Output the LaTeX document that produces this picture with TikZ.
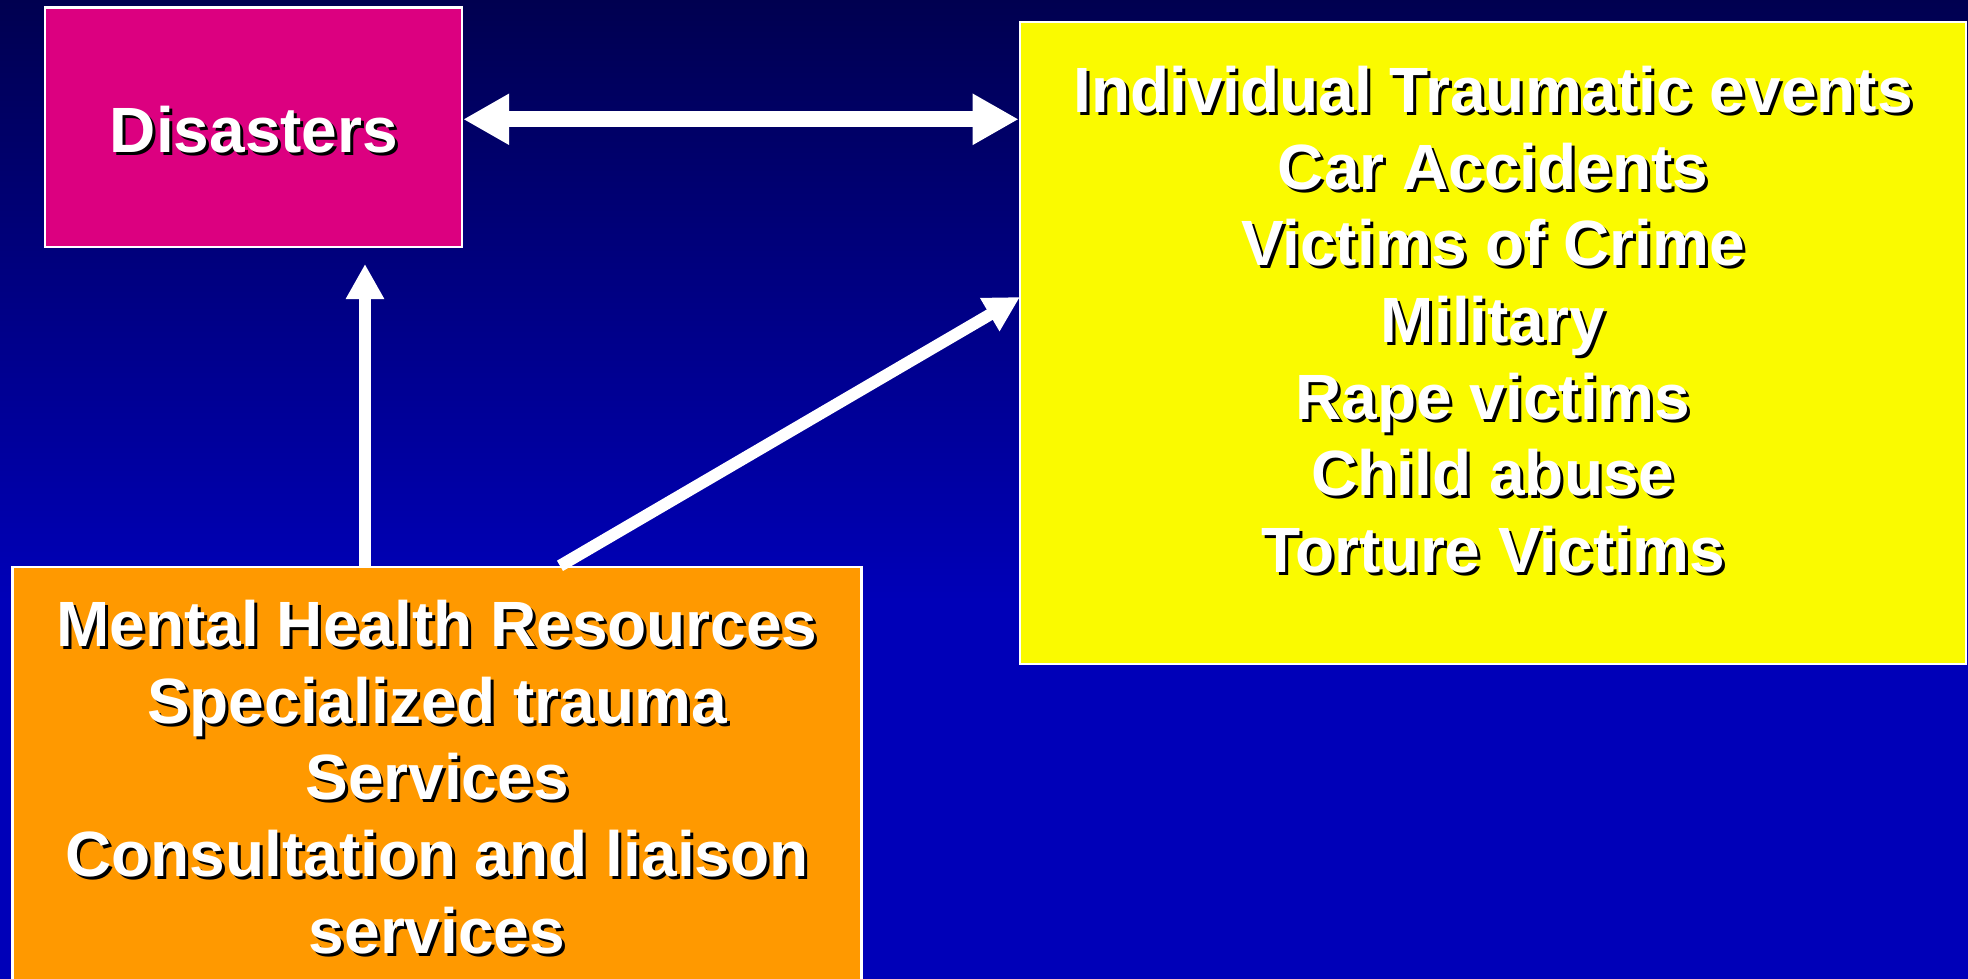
\documentclass[tikz,border=0pt]{standalone}
\usepackage{fontspec}
\setmainfont{Liberation Sans}
\usetikzlibrary{arrows.meta}
\definecolor{bgtop}{HTML}{000050}
\definecolor{bgbot}{HTML}{0000B8}
\definecolor{dismag}{HTML}{DC0080}
\definecolor{evyel}{HTML}{FAFA00}
\definecolor{resorange}{HTML}{FF9900}
\tikzset{
  box/.style={draw=white, line width=0.6pt, inner sep=0pt},
  txt/.style={text=white, font=\bfseries\fontsize{18.2}{21.8}\selectfont, align=center, inner sep=0pt},
  txtshadow/.style={txt, text=black, xshift=0.85pt, yshift=-0.85pt},
  dblarrow/.style={white, line width=4.5pt, {Triangle[length=0.46cm, width=0.48cm]}-{Triangle[length=0.46cm, width=0.48cm]}},
  thinarrow/.style={white, line width=3.4pt, -{Triangle[length=0.35cm, width=0.36cm]}}
}
\begin{document}
\begin{tikzpicture}[x=0.01cm, y=-0.01cm]
\clip (0,0) rectangle (1968,979);
% background
\shade[top color=bgtop, bottom color=bgbot] (0,0) rectangle (1968,600);
\fill[bgbot] (0,599) rectangle (1968,979);
% boxes
\node[box, fill=dismag, minimum width=4.17cm, minimum height=2.395cm] (dis) at (253.5,127.3) {};
\node[box, fill=evyel, minimum width=9.46cm, minimum height=6.41cm] (ev) at (1493,343) {};
\node[box, fill=resorange, minimum width=8.485cm, minimum height=4.23cm] (res) at (437,778.5) {};
% texts
\node[txtshadow] (dis-shade) at (254,129.5) {Disasters};
\node[txt] (dis-text) at (254,129.5) {Disasters};
\node[txtshadow] (ev-shade) at (1493,319.5) {Individual Traumatic events\\Car Accidents\\Victims of Crime\\Military\\Rape victims\\Child abuse\\Torture Victims};
\node[txt] (ev-text) at (1493,319.5) {Individual Traumatic events\\Car Accidents\\Victims of Crime\\Military\\Rape victims\\Child abuse\\Torture Victims};
\node[txtshadow] (res-shade) at (437,777) {Mental Health Resources\\Specialized trauma\hspace*{0.28em}\\Services\\Consultation and liaison\\services};
\node[txt] (res-text) at (437,777) {Mental Health Resources\\Specialized trauma\hspace*{0.28em}\\Services\\Consultation and liaison\\services};
% arrows
\coordinate (up) at (365,264);
\coordinate (diagfoot) at (560,567);
\coordinate (diagtip) at (1020,297);
\draw[dblarrow] ([yshift=0.08cm]dis.east) -- ([yshift=0.08cm]dis.east -| ev.west);
\draw[thinarrow] (res.north -| up) -- (up);
\draw[thinarrow] (res.north -| diagfoot) -- (diagtip);
\end{tikzpicture}
\end{document}
